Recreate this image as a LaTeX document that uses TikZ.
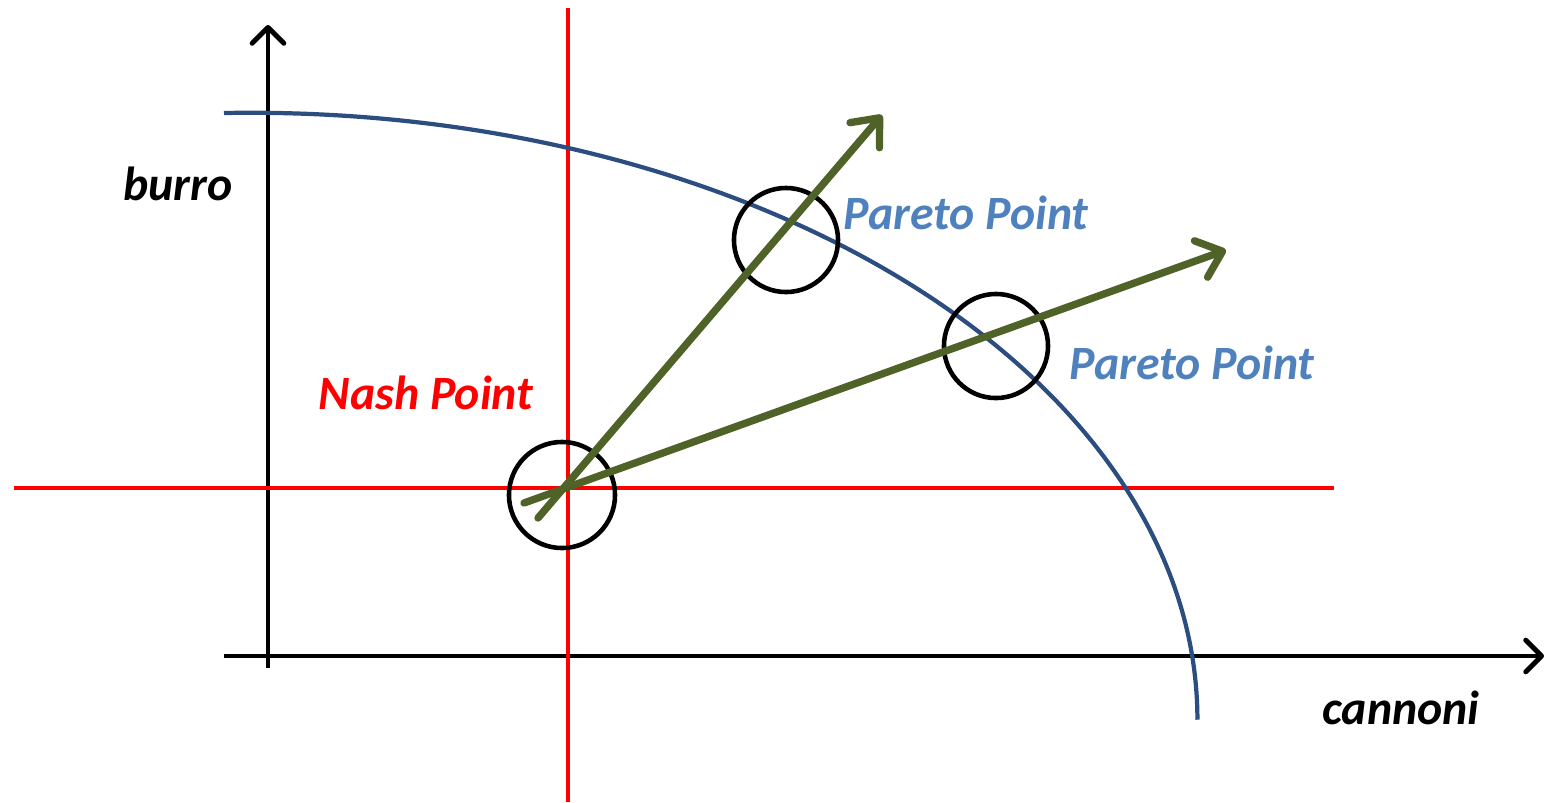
\documentclass[tikz,border=0pt]{standalone}
\usepackage{fontspec}
\setmainfont{Carlito}
\usetikzlibrary{arrows.meta}
\definecolor{curveblue}{RGB}{44,77,128}
\definecolor{paretoblue}{RGB}{79,129,189}
\definecolor{olive}{RGB}{79,98,40}
\tikzset{
  axis/.style={line width=1.4pt,black,-{Straight Barb[length=4.5pt,width=9pt,round,line width=1.4pt]}},
  redline/.style={line width=1.4pt,red},
  greenarrow/.style={line width=2.1pt,olive,line cap=round,-{Straight Barb[length=6.5pt,width=11pt,round,line width=2.1pt]}},
  ring/.style={circle,draw=black,line width=1.3pt,inner sep=0pt},
  lbl/.style={font=\fontsize{13.6pt}{15pt}\selectfont\bfseries\itshape,inner sep=0pt}
}
\begin{document}
\begin{tikzpicture}[x=0.01cm,y=-0.01cm]
\useasboundingbox (0,0) rectangle (1547,802);
% axes
\coordinate (yb) at (268,668);
\coordinate (yt) at (268,25);
\coordinate (xl) at (224,656);
\coordinate (xr) at (1544,656);
\draw[axis] (yb) -- (yt);
\draw[axis] (xl) -- (xr);
% red lines
\coordinate (rvt) at (568,8);
\coordinate (rvb) at (568,802);
\coordinate (rhl) at (14,488);
\coordinate (rhr) at (1334,488);
\draw[redline] (rvt) -- (rvb);
\draw[redline] (rhl) -- (rhr);
% frontier
\coordinate (cs) at (224,113);
\draw[curveblue,line width=1.2pt] (cs) arc[start angle=91.6,end angle=0,x radius=947,y radius=-607];
% circles
\node[ring,minimum size=1.06cm] (nash) at (562,495) {};
\node[ring,minimum size=1.04cm] (p1) at (786,240) {};
\node[ring,minimum size=1.04cm] (p2) at (996,346) {};
% green arrows
\coordinate (g1s) at (538,518);
\coordinate (g1e) at (882,115);
\coordinate (g2s) at (524,503);
\coordinate (g2e) at (1226,250);
\draw[greenarrow] (g1s) -- (g1e);
\draw[greenarrow] (g2s) -- (g2e);
% labels
\node[lbl] (burro) at (178,184) {burro};
\node[lbl] (cannoni) at (1401,708) {cannoni};
\node[lbl,red] (nashl) at (426,393) {Nash Point};
\node[lbl,paretoblue] (pl1) at (966,213) {Pareto Point};
\node[lbl,paretoblue] (pl2) at (1192,363) {Pareto Point};
\end{tikzpicture}
\end{document}
